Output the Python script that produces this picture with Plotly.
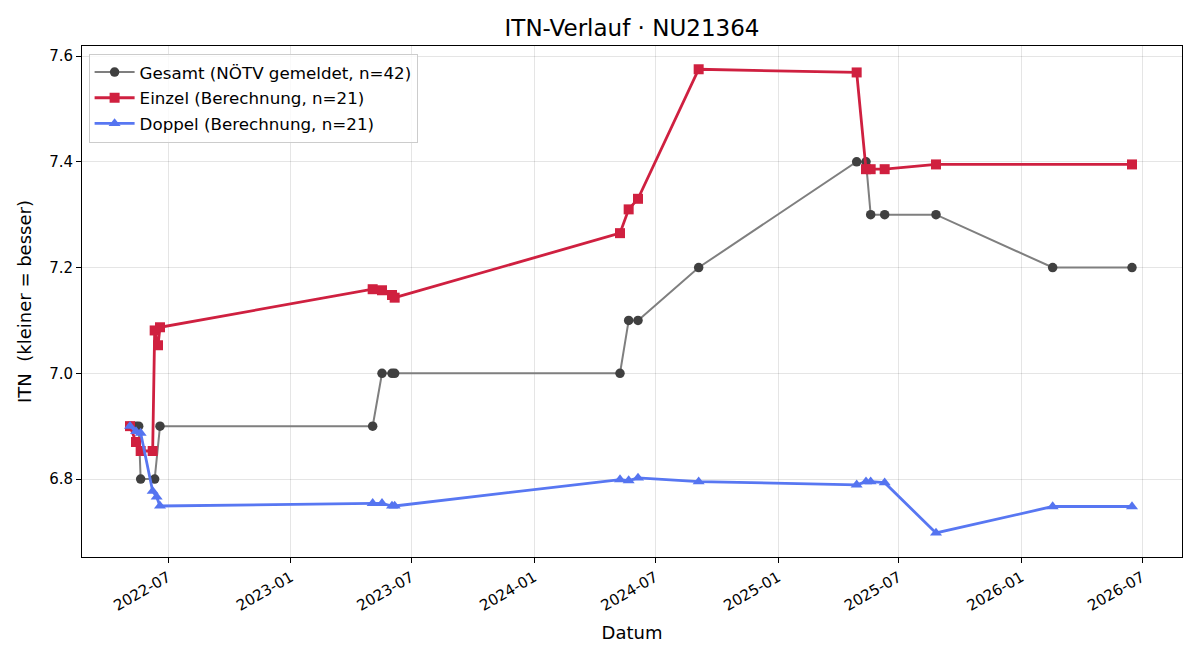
import plotly.graph_objects as go

# --- Data ---
gesamt_dates = ["2022-05-05", "2022-05-14", "2022-05-18", "2022-05-21", "2022-06-11", "2022-06-19",
                "2023-05-04", "2023-05-18", "2023-06-02", "2023-06-06",
                "2024-05-09", "2024-05-22", "2024-06-05", "2024-09-04",
                "2025-04-29", "2025-05-13", "2025-05-20", "2025-06-10", "2025-08-26",
                "2026-02-17", "2026-06-16"]
gesamt_itn = [6.9, 6.9, 6.9, 6.8, 6.8, 6.9,
              6.9, 7.0, 7.0, 7.0,
              7.0, 7.1, 7.1, 7.2,
              7.4, 7.4, 7.3, 7.3, 7.3,
              7.2, 7.2]

einzel_dates = ["2022-05-05", "2022-05-14", "2022-05-21", "2022-06-08", "2022-06-11", "2022-06-16", "2022-06-19",
                "2023-05-04", "2023-05-18", "2023-06-02", "2023-06-06",
                "2024-05-09", "2024-05-22", "2024-06-05", "2024-09-04",
                "2025-04-29", "2025-05-13", "2025-05-20", "2025-06-10", "2025-08-26",
                "2026-06-16"]
einzel_itn = [6.900, 6.870, 6.853, 6.853, 7.081, 7.053, 7.087,
              7.159, 7.157, 7.148, 7.143,
              7.265, 7.310, 7.330, 7.575,
              7.569, 7.386, 7.386, 7.386, 7.395,
              7.395]

doppel_dates = ["2022-05-05", "2022-05-14", "2022-05-21", "2022-06-08", "2022-06-14", "2022-06-19",
                "2023-05-04", "2023-05-18", "2023-06-02", "2023-06-06",
                "2024-05-09", "2024-05-22", "2024-06-05", "2024-09-04",
                "2025-04-29", "2025-05-13", "2025-05-20", "2025-06-10", "2025-08-26",
                "2026-02-17", "2026-06-16"]
doppel_itn = [6.900, 6.890, 6.887, 6.777, 6.766, 6.749,
              6.754, 6.754, 6.749, 6.749,
              6.799, 6.797, 6.802, 6.795,
              6.789, 6.795, 6.795, 6.793, 6.698,
              6.748, 6.748]

FONT = "DejaVu Sans"

fig = go.Figure()
fig.add_trace(go.Scatter(
    x=gesamt_dates, y=gesamt_itn, mode="lines+markers",
    name="Gesamt (NÖTV gemeldet, n=42)", legendgroup="g",
    line=dict(color="#7f7f7f", width=2),
    marker=dict(symbol="circle", size=9.5, color="#404040", line=dict(width=0)),
))
fig.add_trace(go.Scatter(
    x=einzel_dates, y=einzel_itn, mode="lines+markers",
    name="Einzel (Berechnung, n=21)", legendgroup="e",
    line=dict(color="#cf2040", width=2.8),
    marker=dict(symbol="square", size=10, color="#d0203f", line=dict(width=0)),
))
fig.add_trace(go.Scatter(
    x=doppel_dates, y=doppel_itn, mode="lines+markers",
    name="Doppel (Berechnung, n=21)", legendgroup="d",
    line=dict(color="#5877f2", width=2.8),
    marker=dict(symbol="triangle-up", size=10.5, color="#5574f0", line=dict(width=0)),
))

fig.update_layout(
    width=1200, height=660,
    paper_bgcolor="white", plot_bgcolor="white",
    margin=dict(l=82, r=18, t=46, b=103),
    font=dict(family=FONT, size=15, color="black"),
    title=dict(text="ITN-Verlauf · NU21364", x=0.5, xref="paper", xanchor="center",
               y=0.958, yanchor="middle", font=dict(size=23, family=FONT, color="black")),
    legend=dict(x=0.006, y=0.985, xanchor="left", yanchor="top",
                bgcolor="rgba(255,255,255,0.8)", bordercolor="#cccccc", borderwidth=1,
                font=dict(size=16.7, family=FONT), traceorder="grouped", tracegroupgap=1,
                itemwidth=40),
    showlegend=True,
)
fig.update_xaxes(
    range=["2022-02-22", "2026-08-30"],
    type="date", tick0="2022-01-01", dtick="M6", tickformat="%Y-%m",
    tickangle=-30, ticks="outside", ticklen=5, tickcolor="black",
    showline=True, linecolor="black", linewidth=1, mirror=True,
    showgrid=True, gridcolor="rgba(0,0,0,0.1)", gridwidth=1,
    zeroline=False, tickfont=dict(size=15, family=FONT),
    title=dict(text="Datum", font=dict(size=18, family=FONT), standoff=12),
)
fig.update_yaxes(
    range=[6.6525, 7.619], tick0=6.8, dtick=0.2, tickformat=".1f",
    ticks="outside", ticklen=5, tickcolor="black",
    showline=True, linecolor="black", linewidth=1, mirror=True,
    showgrid=True, gridcolor="rgba(0,0,0,0.1)", gridwidth=1,
    zeroline=False, tickfont=dict(size=15, family=FONT),
    title=dict(text="ITN  (kleiner = besser)", font=dict(size=18, family=FONT), standoff=12),
)

fig.write_html("out.html")
